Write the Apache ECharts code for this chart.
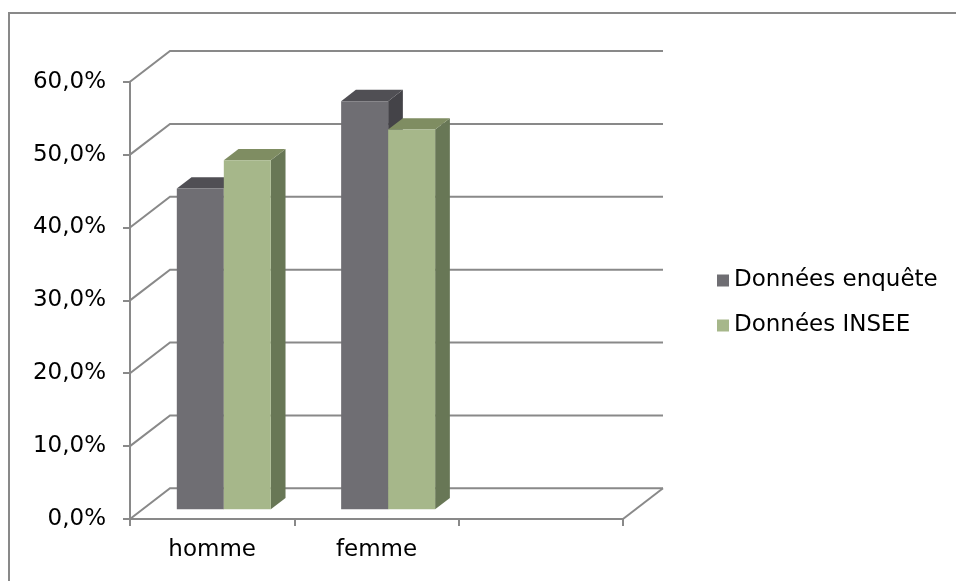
<!DOCTYPE html>
<html>
<head>
<meta charset="utf-8">
<style>
  html, body { margin: 0; padding: 0; background: #fff; }
  #chart { width: 956px; height: 581px; }
</style>
<script src="https://cdn.jsdelivr.net/npm/echarts@6/dist/echarts.min.js"></script>
</head>
<body>
<div id="chart"></div>
<script>
// Categories along the floor (the third slot is left empty)
const categories = ['homme', 'femme', ''];
// Share per category, as fractions
const enquete = [0.440, 0.560, null];
const insee = [0.479, 0.521, null];
// Value ticks of the wall
const yTicks = [0, 0.1, 0.2, 0.3, 0.4, 0.5, 0.6];
const seriesNames = ['Données enquête', 'Données INSEE'];

// Oblique projection of the depth axis, in pixels
const DX = 40;
const DY = 30.7;
// Bars sit in the middle slice of the depth
const D0 = 0.316;
const D1 = 0.684;
const BAR_FRAC = 0.286;
const PAIR_SHIFT = -1;

const LINE = '#898989';
const FONT = '"DejaVu Sans", "Liberation Sans", Arial, sans-serif';

const faces = [
  { front: '#6f6e73', top: '#504f54', side: '#444348' },
  { front: '#a6b78a', top: '#7f8d62', side: '#687756' }
];

function pct(v) {
  return (v * 100).toFixed(1).replace('.', ',') + '%';
}

function wallRenderer(params, api) {
  const v = api.value(1);
  const p = api.coord([0, v]);
  const band = api.size([1, 0])[0];
  const L = p[0] - band / 2;
  const R = api.coord([categories.length - 1, v])[0] + band / 2;
  const y = p[1];
  const children = [{
    type: 'polyline',
    shape: { points: [[L, y], [L + DX, y - DY], [R + DX, y - DY]] },
    style: { stroke: LINE, lineWidth: 2, fill: null }
  }];
  if (v === 0) {
    children.push({
      type: 'line',
      shape: { x1: R, y1: y, x2: R + DX, y2: y - DY },
      style: { stroke: LINE, lineWidth: 2 }
    });
  }
  return { type: 'group', children: children };
}

function barRenderer(slot) {
  const c = faces[slot];
  return function (params, api) {
    const cat = api.value(0);
    const val = api.value(1);
    const base = api.coord([cat, 0]);
    const top = api.coord([cat, val]);
    const band = api.size([1, 0])[0];
    const bw = band * BAR_FRAC;
    const x0 = base[0] + PAIR_SHIFT + (slot - 1) * bw + DX * D0;
    const yb = base[1] - DY * D0;
    const yt = top[1] - DY * D0;
    const ddx = DX * (D1 - D0);
    const ddy = -DY * (D1 - D0);
    const x1 = x0 + bw;
    return {
      type: 'group',
      children: [
        { type: 'polygon', shape: { points: [[x1, yt], [x1 + ddx, yt + ddy], [x1 + ddx, yb + ddy], [x1, yb]] }, style: { fill: c.side } },
        { type: 'polygon', shape: { points: [[x0, yt], [x1, yt], [x1 + ddx, yt + ddy], [x0 + ddx, yt + ddy]] }, style: { fill: c.top } },
        { type: 'rect', shape: { x: x0, y: yt, width: bw, height: yb - yt }, style: { fill: c.front } }
      ]
    };
  };
}

function barData(values) {
  const out = [];
  values.forEach(function (v, i) { if (v != null) out.push([i, v]); });
  return out;
}

const chart = echarts.init(document.getElementById('chart'), null, { renderer: 'canvas' });

chart.setOption({
  animation: false,
  backgroundColor: '#fff',
  textStyle: { fontFamily: FONT },
  graphic: [{
    type: 'rect',
    shape: { x: 9, y: 13, width: 980, height: 600 },
    style: { fill: null, stroke: LINE, lineWidth: 2 },
    silent: true,
    z: -10
  }],
  grid: { left: 130, top: 81.7, width: 493, height: 437.3 },
  legend: {
    orient: 'vertical',
    left: 712,
    top: 264,
    icon: 'rect',
    itemWidth: 12,
    itemHeight: 12,
    itemGap: 22,
    textStyle: { fontSize: 23, color: '#000', fontFamily: FONT },
    data: seriesNames
  },
  xAxis: {
    type: 'category',
    data: categories,
    axisLine: { lineStyle: { color: LINE, width: 2 } },
    axisTick: { show: true, length: 7, interval: 0, lineStyle: { color: LINE, width: 2 } },
    axisLabel: { fontSize: 23, color: '#000', margin: 20, fontFamily: FONT, interval: 0 },
    splitLine: { show: false }
  },
  yAxis: {
    type: 'value',
    min: 0,
    max: 0.6,
    interval: 0.1,
    axisLine: { show: true, lineStyle: { color: LINE, width: 2 } },
    axisTick: { show: true, length: 7, lineStyle: { color: LINE, width: 2 } },
    axisLabel: { fontSize: 23, color: '#000', margin: 24, fontFamily: FONT, formatter: pct, padding: [3, 0, 0, 0] },
    splitLine: { show: false }
  },
  series: [
    {
      type: 'custom',
      name: 'walls',
      silent: true,
      z: 1,
      renderItem: wallRenderer,
      data: yTicks.map(function (t) { return [0, t]; })
    },
    {
      type: 'custom',
      name: seriesNames[0],
      z: 2,
      itemStyle: { color: faces[0].front },
      renderItem: barRenderer(0),
      data: barData(enquete)
    },
    {
      type: 'custom',
      name: seriesNames[1],
      z: 3,
      itemStyle: { color: faces[1].front },
      renderItem: barRenderer(1),
      data: barData(insee)
    }
  ]
});
</script>
</body>
</html>
